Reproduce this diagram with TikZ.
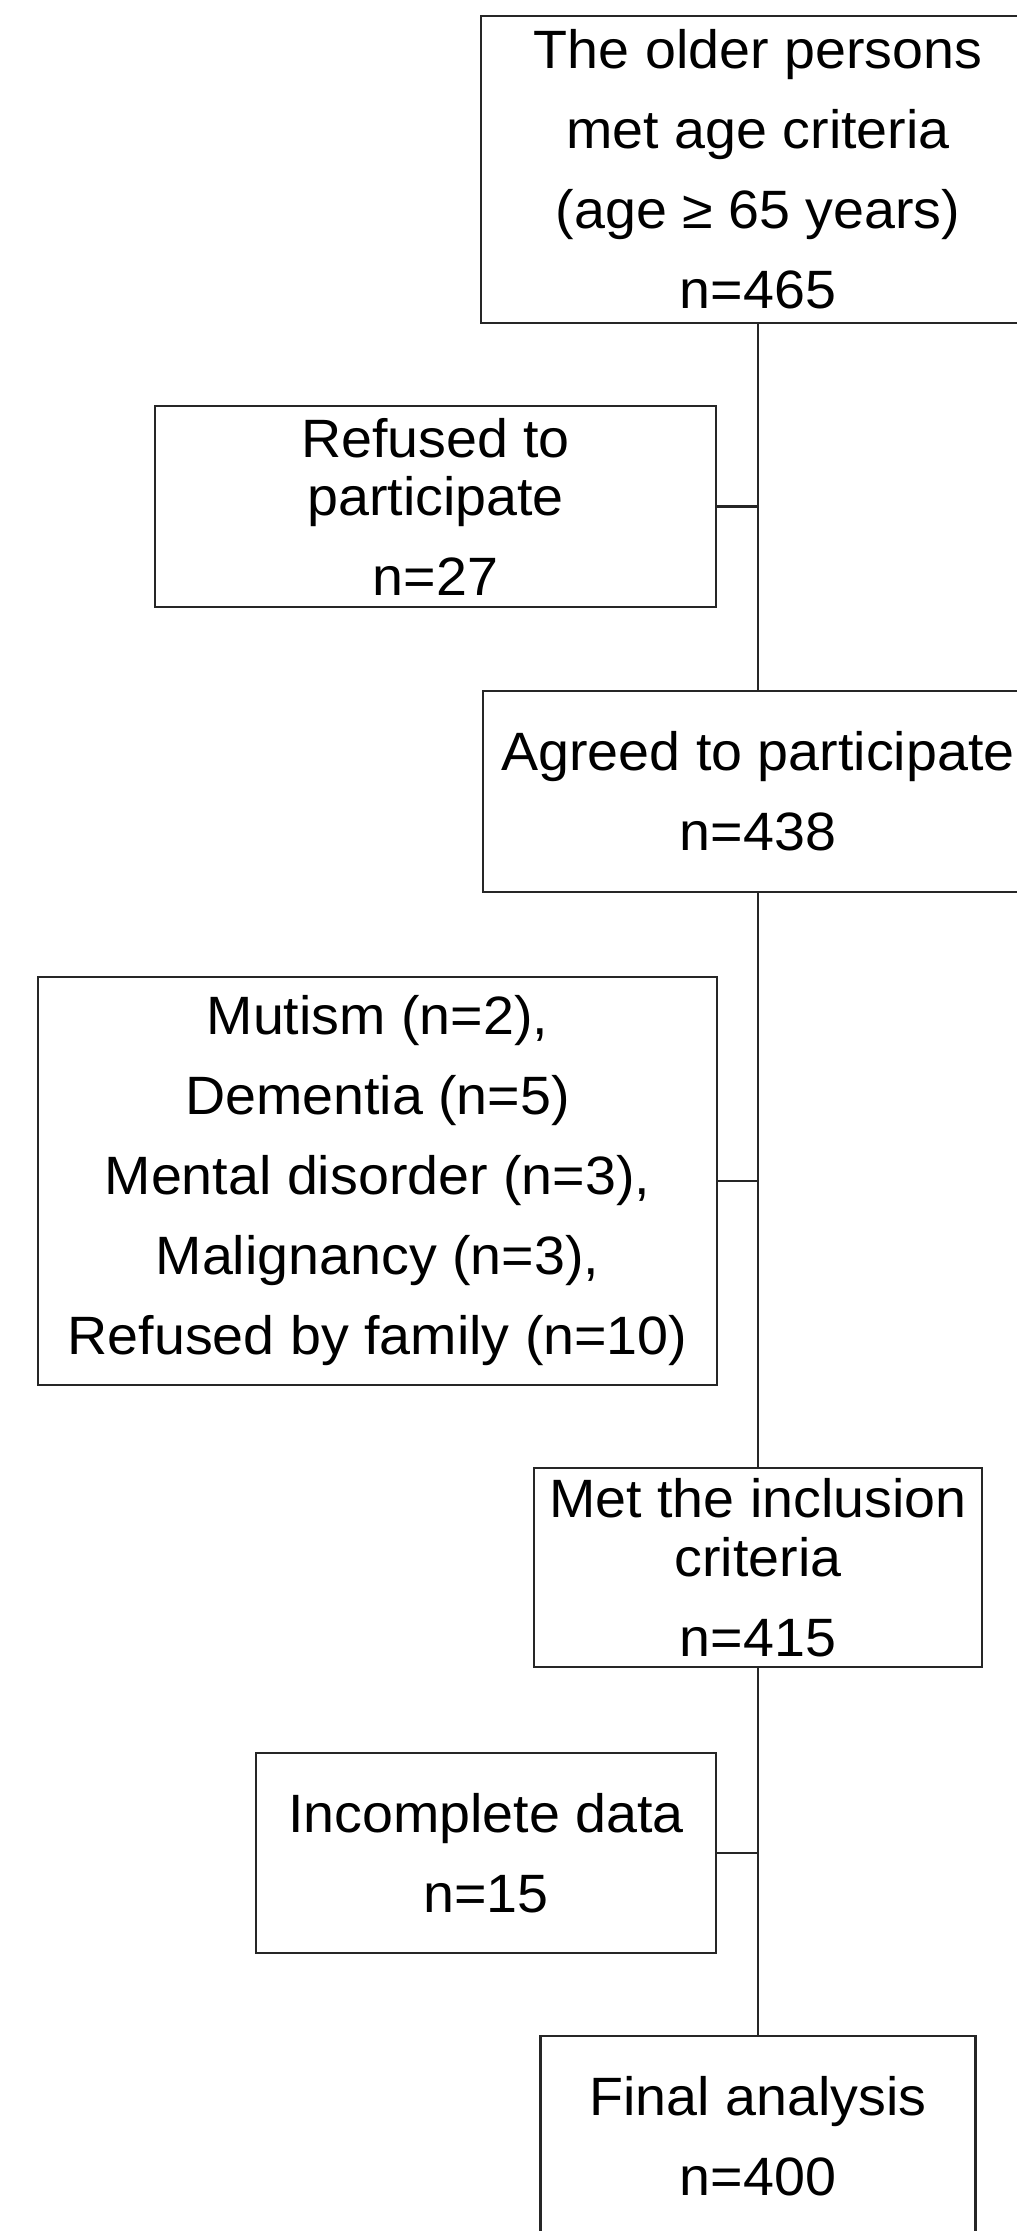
\documentclass[tikz,border=0pt]{standalone}
\usepackage{fontspec}
\setmainfont[FakeStretch=1.03]{Liberation Sans}
\begin{document}
\begin{tikzpicture}[x=1pt,y=-1pt,
  box/.style={draw=black!85, line width=2.6pt, align=center, inner sep=0pt,
    font=\fontsize{54}{80}\selectfont, text=black},
  link/.style={draw=black!85, line width=2.6pt}]
\useasboundingbox (0,0) rectangle (1017,2231);
\fill[white] (0,0) rectangle (1017,2231);
\begin{scope}
\clip (0,0) rectangle (1017,2231);
\node[box, minimum width=554pt, minimum height=307pt] (b1) at (758,169.5)
  {The older persons\\met age criteria\\(age ≥ 65 years)\\n=465};
\node[box, minimum width=561pt, minimum height=201pt] (refused) at (435.5,506.5)
  {Refused to\\[-22pt]participate\\n=27};
\node[box, minimum width=550pt, minimum height=201pt] (agreed) at (758,791.5)
  {Agreed to participate\\n=438};
\node[box, minimum width=679pt, minimum height=408pt] (excl) at (377.5,1181)
  {Mutism (n=2),\\Dementia (n=5)\\Mental disorder (n=3),\\Malignancy (n=3),\\Refused by family (n=10)};
\node[box, minimum width=448pt, minimum height=199pt] (met) at (758,1567.5)
  {Met the inclusion\\[-21pt]criteria\\n=415};
\node[box, minimum width=460pt, minimum height=200pt] (incomplete) at (486,1853)
  {Incomplete data\\n=15};
\node[box, minimum width=435pt, minimum height=200pt] (final) at (758,2136)
  {Final analysis\\n=400};
\end{scope}
\draw[link] (b1.south) -- (agreed.north);
\draw[link] (agreed.south) -- (met.north);
\draw[link] (met.south) -- (final.north);
\draw[link] (refused.east) -- (refused.east -| b1.south);
\draw[link] (excl.east) -- (excl.east -| agreed.south);
\draw[link] (incomplete.east) -- (incomplete.east -| met.south);
\end{tikzpicture}
\end{document}
